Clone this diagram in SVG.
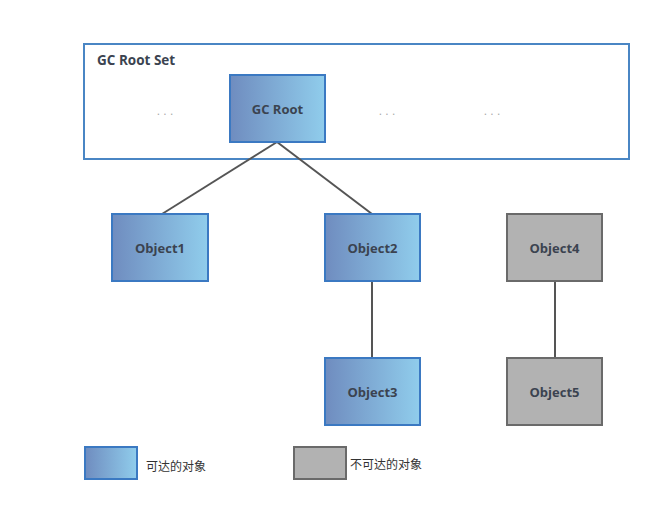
<svg xmlns="http://www.w3.org/2000/svg" width="672" height="528" viewBox="0 0 672 528">
<defs>
<linearGradient id="blue" x1="0" y1="0" x2="1" y2="0">
<stop offset="0" stop-color="#6f8cbf"/>
<stop offset="1" stop-color="#90cdec"/>
</linearGradient>
</defs>
<style>
.reach{fill:url(#blue);stroke:#3b79c2;stroke-width:2}
.unreach{fill:#b2b2b2;stroke:#6a6a6a;stroke-width:2}
.lbl{font-family:"Open Sans","Liberation Sans",sans-serif;font-weight:bold;font-size:13px;fill:#3b4350;text-anchor:middle}
.dots{font-family:"Liberation Sans",sans-serif;font-size:12px;fill:#aaa;text-anchor:middle}
.leg{font-family:"Noto Sans CJK SC",sans-serif;font-size:12px;fill:#333}
.conn{stroke:#555;stroke-width:2;fill:none}
</style>
<rect width="672" height="528" fill="#fff"/>
<g id="rootset">
<rect x="84" y="44" width="545" height="115" fill="#fff" stroke="#4a86c4" stroke-width="2"/>
<text x="97" y="65" class="lbl" style="text-anchor:start;font-size:13.5px">GC Root Set</text>
<text x="165" y="115" class="dots">. . .</text>
<text x="387" y="115" class="dots">. . .</text>
<text x="492" y="115" class="dots">. . .</text>
</g>
<g id="connectors">
<line class="conn" x1="277" y1="142" x2="162" y2="214"/>
<line class="conn" x1="277" y1="142" x2="372" y2="214"/>
<line class="conn" x1="372" y1="281" x2="372" y2="358"/>
<line class="conn" x1="555" y1="281" x2="555" y2="358"/>
</g>
<g id="gcroot"><rect class="reach" x="230" y="75" width="95" height="67"/><text class="lbl" x="277.5" y="114">GC Root</text></g>
<g id="object1"><rect class="reach" x="112" y="214" width="96" height="67"/><text class="lbl" x="160" y="253">Object1</text></g>
<g id="object2"><rect class="reach" x="325" y="214" width="95" height="67"/><text class="lbl" x="372.5" y="253">Object2</text></g>
<g id="object3"><rect class="reach" x="325" y="358" width="95" height="67"/><text class="lbl" x="372.5" y="397">Object3</text></g>
<g id="object4"><rect class="unreach" x="507" y="214" width="95" height="67"/><text class="lbl" x="554.5" y="253">Object4</text></g>
<g id="object5"><rect class="unreach" x="507" y="358" width="95" height="67"/><text class="lbl" x="554.5" y="397">Object5</text></g>
<g id="legend-reach"><rect class="reach" x="85" y="447" width="52" height="32"/><text class="leg" x="146" y="471">可达的对象</text></g>
<g id="legend-unreach"><rect class="unreach" x="294" y="447" width="52" height="32"/><text class="leg" x="350" y="469">不可达的对象</text></g>
</svg>
